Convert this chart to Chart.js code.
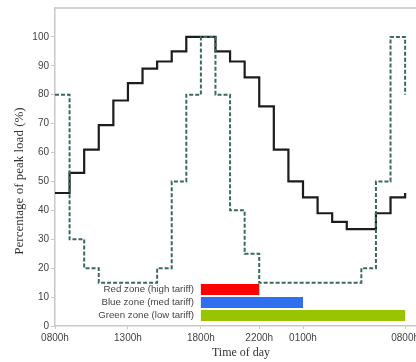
<!DOCTYPE html>
<html><head><meta charset="utf-8">
<script src="https://cdn.jsdelivr.net/npm/chart.js@4.4.1/dist/chart.umd.min.js"></script>
<style>
html,body{margin:0;padding:0;overflow:hidden;background:#fff;width:416px;height:362px}
#wrap{position:absolute;left:0;top:0;width:440px;height:362px}
</style>
</head><body><div id="wrap"><canvas id="c"></canvas></div>
<script>
// hours after 08:00
const hours = [0,1,2,3,4,5,6,7,8,9,10,11,12,13,14,15,16,17,18,19,20,21,22,23,24];
const peakLoad = [46,53,61,69.5,78,84,89,91.5,95,100,100,95,91.5,86,76,61,50,44.5,39,36,33.5,33.5,39,44.5,46];
const tariffSignal = [80,30,20,15,15,15,15,20,50,80,100,80,40,25,15,15,15,15,15,15,15,20,50,100,80];
const zoneLabels = ['Red zone (high tariff)','Blue zone (med tariff)','Green zone (low tariff)'];
const zoneStart = [10,10,10];
const zoneEnd = [14,17,24];
const zoneLevel = [12.6,8.1,3.6];
const zoneColors = ['#ff0000','#2f6ff0','#99c400'];
const xTickValues = [0,5,10,14,17,24];
const xTickLabels = ['0800h','1300h','1800h','2200h','0100h','0800h'];
const yTickValues = [0,10,20,30,40,50,60,70,80,90,100];
const yTitle = 'Percentage of peak load (%)';

const datasets = [];
zoneLabels.forEach((lab,i)=>{
  datasets.push({
    label: lab,
    data: [{x:zoneStart[i], y:zoneLevel[i]},{x:zoneEnd[i], y:zoneLevel[i]}],
    borderColor: zoneColors[i], borderWidth: 11, borderCapStyle:'butt',
    pointRadius:0, tension:0, fill:false
  });
});
datasets.push({
  label:'Tariff signal',
  data: hours.map((h,i)=>({x:h, y:tariffSignal[i]})),
  borderColor:'#3b6b55', borderWidth:2, borderDash:[4,2], stepped:true,
  pointRadius:0, fill:false
});
datasets.push({
  label:'Peak load',
  data: hours.map((h,i)=>({x:h, y:peakLoad[i]})),
  borderColor:'#1c1c1c', borderWidth:2.2, stepped:true,
  pointRadius:0, fill:false
});

const extras = {
  id:'extras',
  afterDatasetsDraw(chart){
    const {ctx, chartArea, scales:{x,y}} = chart;
    ctx.save();
    ctx.strokeStyle='#d2d2d2'; ctx.lineWidth=2;
    ctx.beginPath(); ctx.moveTo(chartArea.left, chartArea.top); ctx.lineTo(chartArea.right, chartArea.top); ctx.stroke();
    ctx.font='9.7px "Liberation Sans", Arial, sans-serif';
    ctx.fillStyle='#444'; ctx.textAlign='right'; ctx.textBaseline='middle';
    zoneLabels.forEach((lab,i)=>{
      ctx.fillText(lab, x.getPixelForValue(zoneStart[i]) - 7, y.getPixelForValue(zoneLevel[i]));
    });
    // y-axis title, placed slightly below the plot centre as in the reference
    ctx.translate(20, (chartArea.top + chartArea.bottom)/2 + 14);
    ctx.rotate(-Math.PI/2);
    ctx.textAlign='center'; ctx.fillStyle='#333';
    ctx.font='13px "Liberation Serif", "Times New Roman", serif';
    ctx.fillText(yTitle, 0, 0);
    ctx.restore();
  }
};

new Chart(document.getElementById('c'), {
  type:'line',
  data:{datasets},
  options:{
    responsive:true, maintainAspectRatio:false, animation:false,
    layout:{padding:{top:7,right:13,left:0,bottom:0}},
    plugins:{legend:{display:false}, tooltip:{enabled:false}},
    scales:{
      x:{
        type:'linear', min:0, max:25.5,
        afterFit(s){ s.height = 36; },
        afterBuildTicks(s){ s.ticks = xTickValues.map(v=>({value:v})); },
        ticks:{ autoSkip:false, maxRotation:0, padding:3, color:'#444',
          font:{family:'"Liberation Sans", Arial, sans-serif', size:10},
          callback:(v,i)=>xTickLabels[i] },
        grid:{ drawOnChartArea:false, tickLength:3, color:'#c8c8c8' },
        border:{ color:'#c8c8c8', width:1.5 },
        title:{ display:true, text:'Time of day', color:'#333',
          font:{family:'"Liberation Serif", "Times New Roman", serif', size:12},
          padding:{top:0,bottom:2} }
      },
      y:{
        type:'linear', min:0, max:110,
        afterFit(s){ s.width = 55; },
        afterBuildTicks(s){ s.ticks = yTickValues.map(v=>({value:v})); },
        ticks:{ padding:2, color:'#444',
          font:{family:'"Liberation Sans", Arial, sans-serif', size:10} },
        grid:{ drawOnChartArea:false, tickLength:4, color:'#c8c8c8' },
        border:{ color:'#c8c8c8', width:1.5 },
        title:{ display:false }
      }
    }
  },
  plugins:[extras]
});
</script>
</body></html>
